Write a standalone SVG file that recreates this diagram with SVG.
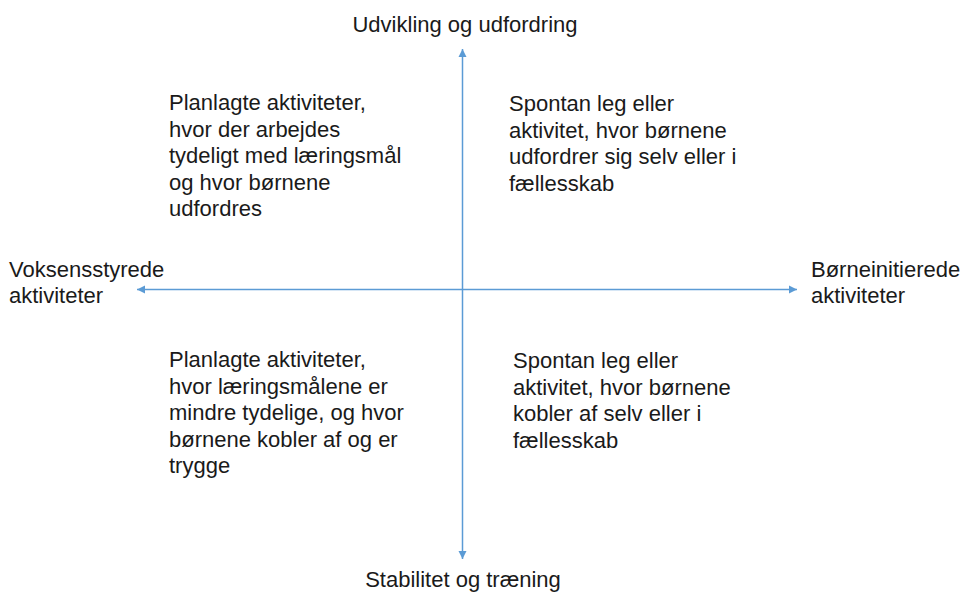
<svg xmlns="http://www.w3.org/2000/svg" width="961" height="594" viewBox="0 0 961 594">
  <style>
    text { font-family: "Liberation Sans", Arial, sans-serif; font-size: 22px; fill: #1a1a1a; }
    .axis { stroke: #5B9BD5; stroke-width: 1.5; fill: none; }
  </style>
  <defs>
    <marker id="ah" viewBox="0 0 10 10" refX="10" refY="5" markerWidth="5.5" markerHeight="5.5" orient="auto-start-reverse" markerUnits="strokeWidth">
      <path d="M0,0 L10,5 L0,10 Z" fill="#5B9BD5"/>
    </marker>
  </defs>
  <rect width="961" height="594" fill="#ffffff"/>
  <g id="connectors">
    <line class="axis" x1="462.5" y1="49" x2="462.5" y2="559" marker-start="url(#ah)" marker-end="url(#ah)"/>
    <line class="axis" x1="137" y1="289.5" x2="797" y2="289.5" marker-start="url(#ah)" marker-end="url(#ah)"/>
  </g>
  <g id="top-label"><text x="465" y="32" text-anchor="middle">Udvikling og udfordring</text></g>
  <g id="bottom-label"><text x="463" y="587" text-anchor="middle">Stabilitet og træning</text></g>
  <g id="left-label"><text x="9" y="277">Voksensstyrede</text><text x="9" y="303">aktiviteter</text></g>
  <g id="right-label"><text x="811" y="277">Børneinitierede</text><text x="811" y="303">aktiviteter</text></g>
  <g id="upper-left">
    <text x="169" y="110">Planlagte aktiviteter,</text>
    <text x="169" y="136.5">hvor der arbejdes</text>
    <text x="169" y="163">tydeligt med læringsmål</text>
    <text x="169" y="189.5">og hvor børnene</text>
    <text x="169" y="216">udfordres</text>
  </g>
  <g id="upper-right">
    <text x="509" y="111">Spontan leg eller</text>
    <text x="509" y="137.5">aktivitet, hvor børnene</text>
    <text x="509" y="164">udfordrer sig selv eller i</text>
    <text x="509" y="190.5">fællesskab</text>
  </g>
  <g id="lower-left">
    <text x="169" y="367">Planlagte aktiviteter,</text>
    <text x="169" y="393.5">hvor læringsmålene er</text>
    <text x="169" y="420">mindre tydelige, og hvor</text>
    <text x="169" y="446.5">børnene kobler af og er</text>
    <text x="169" y="473">trygge</text>
  </g>
  <g id="lower-right">
    <text x="513" y="368">Spontan leg eller</text>
    <text x="513" y="394.5">aktivitet, hvor børnene</text>
    <text x="513" y="421">kobler af selv eller i</text>
    <text x="513" y="447.5">fællesskab</text>
  </g>
</svg>
